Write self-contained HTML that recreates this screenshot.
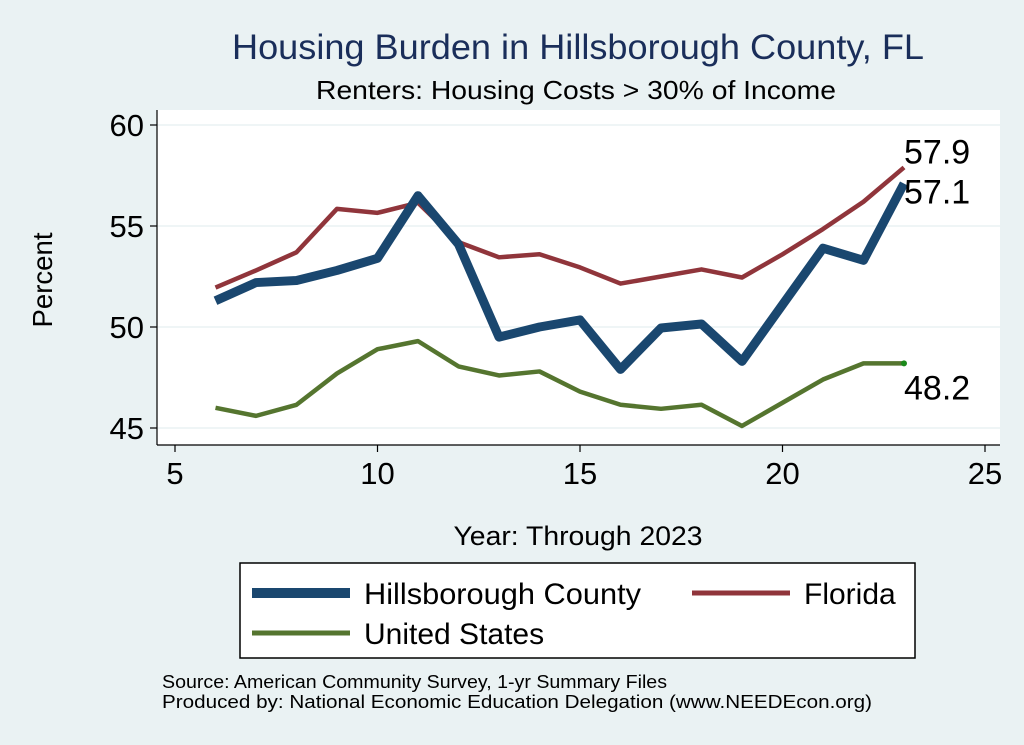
<!DOCTYPE html>
<html><head><meta charset="utf-8"><style>
html,body{margin:0;padding:0;background:#eaf2f3;}
svg{display:block;font-family:"Liberation Sans",Arial,sans-serif;}
</style></head><body>
<svg id="chart" width="1024" height="745" viewBox="0 0 1024 745">
<rect x="0" y="0" width="1024" height="745" fill="#eaf2f3"/>
<rect x="157" y="110" width="843" height="335" fill="#ffffff"/>
<text x="578" y="59" text-anchor="middle" font-size="35" textLength="692" lengthAdjust="spacingAndGlyphs" fill="#1a2e5a">Housing Burden in Hillsborough County, FL</text>
<text x="576" y="99" text-anchor="middle" font-size="26" textLength="520" lengthAdjust="spacingAndGlyphs" fill="#000">Renters: Housing Costs &gt; 30% of Income</text>
<g id="grid"></g>
<g id="axes"></g>
<g id="series"></g>
<text x="578" y="545" text-anchor="middle" font-size="27" textLength="249" lengthAdjust="spacingAndGlyphs">Year: Through 2023</text>
<text x="52" y="280" text-anchor="middle" font-size="28" textLength="95" lengthAdjust="spacingAndGlyphs" transform="rotate(-90 52 280)">Percent</text>
<g>
<rect x="240" y="563" width="675" height="95" fill="#fff" stroke="#000" stroke-width="1.5"/>
<g><line x1="252" y1="593" x2="350" y2="593" stroke="#1a476f" stroke-width="10"/><text x="364" y="604" font-size="30" textLength="277" lengthAdjust="spacingAndGlyphs">Hillsborough County</text></g>
<g><line x1="692" y1="593" x2="790" y2="593" stroke="#90353b" stroke-width="5"/><text x="804" y="604" font-size="30">Florida</text></g>
<g><line x1="252" y1="633" x2="350" y2="633" stroke="#55752f" stroke-width="5"/><text x="364" y="644" font-size="30">United States</text></g>
</g>
<text x="162" y="688" font-size="18" textLength="505" lengthAdjust="spacingAndGlyphs">Source: American Community Survey, 1-yr Summary Files</text>
<text x="162" y="708" font-size="18" textLength="710" lengthAdjust="spacingAndGlyphs">Produced by: National Economic Education Delegation (www.NEEDEcon.org)</text>
</svg>
<script>
const years=[6,7,8,9,10,11,12,13,14,15,16,17,18,19,20,21,22,23];
const hillsborough=[51.3,52.2,52.3,52.8,53.4,56.5,54.1,49.5,50.0,50.35,47.9,49.95,50.15,48.3,51.1,53.9,53.3,57.1];
const florida=[51.95,52.8,53.7,55.85,55.65,56.15,54.2,53.45,53.6,52.95,52.15,52.5,52.85,52.45,53.6,54.85,56.2,57.9];
const unitedStates=[46.0,45.6,46.15,47.7,48.9,49.3,48.05,47.6,47.8,46.8,46.15,45.95,46.15,45.1,46.25,47.4,48.2,48.2];
const xTicks=[5,10,15,20,25];
const yTicks=[45,50,55,60];
const NS="http://www.w3.org/2000/svg";
function X(v){return 175+(v-5)*40.5;}
function Y(v){return 125+(60-v)*20.2;}
function mk(tag,attrs,parent,txt){const e=document.createElementNS(NS,tag);for(const k in attrs)e.setAttribute(k,attrs[k]);if(txt!==undefined)e.textContent=txt;parent.appendChild(e);return e;}
const grid=document.getElementById('grid'),axes=document.getElementById('axes'),series=document.getElementById('series');
yTicks.forEach(t=>{
  const g=mk('line',{x1:157,x2:1000,y1:Y(t),y2:Y(t),stroke:'#eaf2f3','stroke-width':1.5},grid);
  
  
  mk('line',{x1:150,x2:157,y1:Y(t),y2:Y(t),stroke:'#000','stroke-width':1.2},axes);
  const l=mk('text',{x:144,y:Y(t)+11,'text-anchor':'end','font-size':31},axes,String(t));
  
  
});
xTicks.forEach(t=>{
  mk('line',{x1:X(t),x2:X(t),y1:445,y2:452,stroke:'#000','stroke-width':1.2},axes);
  const l=mk('text',{x:X(t),y:484,'text-anchor':'middle','font-size':31},axes,String(t));
  
  
});
const ya=mk('line',{x1:157,x2:157,y1:110,y2:445,stroke:'#000','stroke-width':1.2},axes);


const xa=mk('line',{x1:157,x2:1000,y1:445,y2:445,stroke:'#000','stroke-width':1.2},axes);


function line(vals,color,w,name){
  const d=vals.map((v,i)=>(i?'L':'M')+X(years[i])+','+Y(v)).join(' ');
  const p=mk('path',{d:d,fill:'none',stroke:color,'stroke-width':w,'stroke-linejoin':'round'},series);
  
  
}
line(unitedStates,'#55752f',4.5,'line-united-states');
line(florida,'#90353b',4.5,'line-florida');
line(hillsborough,'#1a476f',9,'line-hillsborough');
const n=years.length-1;
const dot=mk('circle',{cx:X(years[n]),cy:Y(unitedStates[n]),r:3,fill:'#1a8a1a'},series);


[[florida[n],Y(florida[n])-4,'label-florida-end'],[hillsborough[n],Y(hillsborough[n])+20,'label-hillsborough-end'],[unitedStates[n],Y(unitedStates[n])+36,'label-us-end']].forEach(a=>{
  const t=mk('text',{x:904,y:a[1],'font-size':34},series,a[0].toFixed(1));
  
  
});
</script>
</body></html>
